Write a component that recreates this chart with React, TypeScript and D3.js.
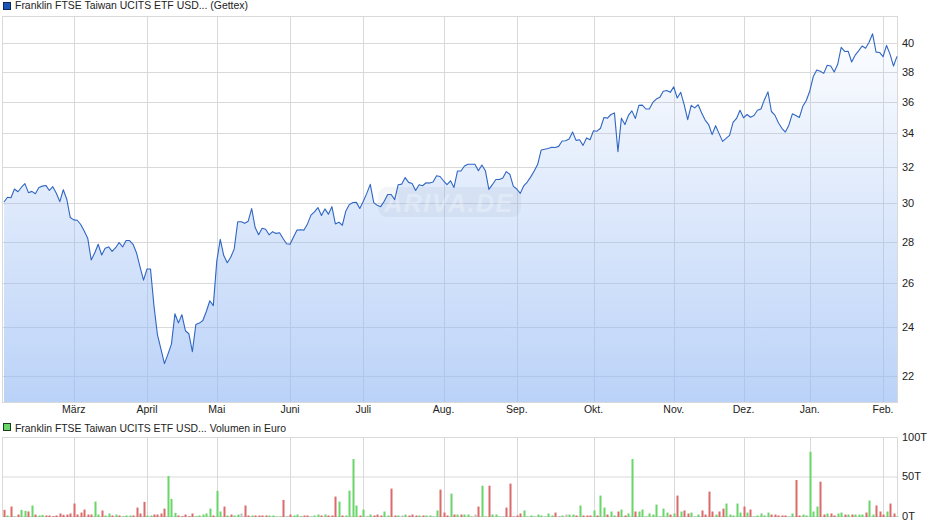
import React from "react";
import * as d3 from "d3";

const seriesName = "Franklin FTSE Taiwan UCITS ETF USD... (Gettex)";
const volumeName = "Franklin FTSE Taiwan UCITS ETF USD... Volumen in Euro";

const prices = [
  30.09,30.35,30.32,30.8,30.65,30.9,31.1,30.6,30.67,30.54,30.89,30.96,31.0,30.72,30.93,30.57,30.11,30.76,30.24,29.26,
  29.14,29.12,28.9,28.56,28.2,27.12,27.46,27.89,27.36,27.69,27.76,27.54,27.72,27.98,27.76,28.08,28.08,27.89,27.46,26.78,
  26.15,26.68,26.68,24.96,23.7,23.1,22.51,22.9,23.31,24.62,24.22,24.58,23.88,23.75,23.0,24.15,24.21,24.32,24.72,25.2,
  24.98,27.06,28.14,27.33,26.98,27.25,27.66,29.04,
  29.04,28.96,29.07,29.74,28.74,28.37,28.7,28.65,28.37,28.53,28.44,28.47,28.18,27.92,27.89,28.26,28.61,28.63,28.61,28.93,
  29.39,29.56,29.79,29.37,29.72,29.44,29.84,28.93,29.02,28.86,29.61,29.95,30.06,30.07,29.74,30.13,30.56,31.06,30.06,29.91,
  29.84,30.13,30.5,30.5,30.22,31.04,31.07,31.44,31.17,31.11,30.72,31.04,30.98,31.15,31.13,31.19,31.54,31.5,31.26,31.04,
  31.26,30.89,31.81,31.81,32.1,32.2,32.2,32.2,31.83,32.16,31.83,30.78,31.04,31.33,31.33,31.41,31.78,31.63,30.96,30.8,
  30.56,30.98,31.19,31.48,31.81,32.2,
  33.04,33.08,33.12,33.2,33.18,33.25,33.57,33.59,33.69,34.12,33.61,33.65,33.31,33.76,33.65,34.2,34.17,34.35,35.02,34.98,
  35.21,35.31,32.94,34.98,34.58,35.15,35.44,34.96,35.79,35.81,35.56,35.56,35.98,36.2,36.31,36.71,36.76,36.64,37.0,36.27,
  36.64,35.83,34.88,35.79,35.63,35.83,35.31,34.86,34.58,33.96,34.51,34.02,33.55,33.73,33.92,34.71,34.96,35.48,35.0,35.21,
  35.04,35.15,35.48,35.56,
  36.16,36.67,35.4,35.17,34.69,34.35,34.12,34.54,35.25,35.15,35.02,35.73,36.11,36.73,37.69,38.14,38.05,37.91,38.46,38.41,
  38.0,38.53,39.72,39.43,39.45,38.69,39.17,39.47,39.82,39.66,40.09,40.7,39.38,39.36,39.06,39.86,39.24,38.41,39.08,
];

const volumes = [
  8.4,1.3,12.6,0,2.5,8.4,7.1,6.3,13.9,2.5,
  1.3,2.1,1.3,1.3,0.4,1.3,3.8,2.1,2.5,3.8,
  16.4,2.5,5,8.8,2.5,2.5,18.9,2.5,7.6,1.3,
  3.8,1.3,2.5,1.3,0.4,1.3,1.3,1.3,11.3,3.8,
  18.5,1.3,1.3,2.5,2.5,3.8,10,51.3,22.3,4.6,
  1.3,0.4,2.5,0.4,3.8,0.4,1.3,2.5,3.8,10,
  1.3,32.4,6.3,12.6,1.3,2.5,1.3,2.5,3.8,13.9,
  1.3,1.3,1.3,1.3,1.3,1.3,1.3,1.3,0,0,
  21,0,2.5,1.3,2.5,0.4,1.3,1.3,0,1.3,
  2.5,1.3,2.5,1.3,1.3,25.2,18.9,1.3,1.3,32.8,
  72.7,13.9,1.3,8.8,0,2.5,1.3,2.5,1.3,6.3,
  1.3,35.3,1.3,1.3,1.3,2.5,1.3,2.5,1.3,1.3,
  1.3,1.3,1.3,0,7.6,34,5,1.3,29,2.5,
  2.5,2.5,2.5,2.5,0,2.5,12.6,39,0,39,
  2.5,2.5,0,0,11.3,41.6,0,1.3,3.8,7.6,
  0,1.3,0,2.5,1.3,0,3.8,1.3,5,0,
  1.3,2.5,2.5,2.5,1.3,13.9,1.3,1.3,1.3,7.6,
  1.3,26.5,11.3,2.5,6.3,1.3,6.3,8.8,1.3,3.8,
  72.7,6.3,6.3,8.8,0,3.8,2.5,15.1,0,10,
  5,2.5,3.8,26.5,6.3,7.6,3.8,5,0,2.5,
  7.6,2.5,31.5,6.3,2.5,6.3,10,16.4,2.5,1.3,
  16.4,5,12.6,5,8.8,0,1.3,3.8,1.3,5,
  2.5,2.5,1.3,1.3,1.3,0,3.8,46.2,1.3,2.5,
  1.3,81.9,6.3,12.6,44.1,2.5,3.8,3.8,1.3,3.8,
  5,2.5,2.5,2.5,2.5,2.5,2.5,5,20.2,2.5,
  13.9,6.3,2.5,6.3,16.4,3.8,0,
];

const volumeDirections = [
  "rgrgrggrgr","ggrrrrrrrr","rrrrrrggrg","grgrgggrrr","rggrrrrggg",
  "rrrrrggggg","rggrgrggnr","rgrrrrgggg","rgrgggrrgg",
  "grgrrrgrgg",
  "ggrgggrrrg","grrgngrrrg","rggggrrrgr","grgggnrggr","ggggrrrrrg",
  "ggggggggrr","gnggrgrrrg","rggrggrgrg","grgggggggg","grgrgrrggg",
  "rrrrgrrggg","ggrgrggggg","rrrrrggrrg","ggggrrgrrg","grgrgggrgg","rrrgrrg",
].join("");

const priceTicks = [22, 24, 26, 28, 30, 32, 34, 36, 38, 40];
const volumeTicks = [0, 50, 100];
const monthLabels = ["März", "April", "Mai", "Juni", "Juli", "Aug.", "Sep.", "Okt.", "Nov.", "Dez.", "Jan.", "Feb."];
const monthStartIndex = [20, 41, 61, 82, 103, 126, 147, 169, 192, 212, 231, 252];

const x = d3.scaleLinear().domain([0, prices.length - 1]).range([4, 897]);
const y = d3.scaleLog().domain([21, 42]).range([402.3, 16.3]);
const yVol = d3.scaleLinear().domain([0, 100]).range([516.5, 437.5]);

const linePath = d3.line<number>().x((_, i) => x(i)).y((d) => y(d))(prices) ?? "";
const areaPath = d3.area<number>().x((_, i) => x(i)).y0(402).y1((d) => y(d))(prices) ?? "";

const GRID = "#d9d9d9";
const TEXT = "#222222";
const FONT = "'Liberation Sans', Arial, sans-serif";
const barColor: Record<string, string> = { r: "#dc6a6a", g: "#68d668", n: "#bdbdbd" };

export default function App() {
  return (
    <svg
      width={940}
      height={526}
      viewBox="0 0 940 526"
      style={{ position: "absolute", left: 0, top: 0, background: "#fff" }}
      fontFamily={FONT}
      fontSize={10.5}
      fill={TEXT}
    >
      <defs>
        <linearGradient id="areaFill" gradientUnits="userSpaceOnUse" x1={0} y1={30} x2={0} y2={402}>
          <stop offset="0" stopColor="#96baf4" stopOpacity={0.02} />
          <stop offset="1" stopColor="#96baf4" stopOpacity={0.65} />
        </linearGradient>
      </defs>

      {/* price panel */}
      <rect x={2.5} y={16.5} width={895} height={386} fill="none" stroke={GRID} />
      {priceTicks.map((t) => (
        <g key={t}>
          <line x1={3} x2={898} y1={Math.floor(y(t)) + 0.5} y2={Math.floor(y(t)) + 0.5} stroke={GRID} />
          <text x={902} y={y(t) + 3.5} fontSize={11}>{t}</text>
        </g>
      ))}
      {monthStartIndex.map((idx, k) => (
        <g key={monthLabels[k]}>
          <line x1={Math.round(x(idx)) + 0.5} x2={Math.round(x(idx)) + 0.5} y1={16} y2={403} stroke={GRID} />
          <text x={x(idx)} y={413} textAnchor="middle">{monthLabels[k]}</text>
        </g>
      ))}

      <path d={areaPath} fill="url(#areaFill)" />

      <rect x={378} y={187} width={143} height={30} rx={9} fill="#7f8ca8" opacity={0.09} />
      <text x={449} y={212} textAnchor="middle" fontSize={25} fontWeight="bold" fontStyle="italic" fill="#ffffff" opacity={0.28} letterSpacing={1.5}>ARIVA.DE</text>

      <path d={linePath} fill="none" stroke="#2f66c4" strokeWidth={1.1} strokeLinejoin="round" />

      <rect x={3.5} y={2.5} width={7} height={7} fill="#1a56b8" stroke="#10284f" />
      <text x={15} y={9} textLength={233} lengthAdjust="spacingAndGlyphs">{seriesName}</text>

      {/* volume panel */}
      <rect x={3.5} y={423.5} width={7} height={7} fill="#68d668" stroke="#1c3a1c" />
      <text x={15} y={432} textLength={271} lengthAdjust="spacingAndGlyphs">{volumeName}</text>
      <rect x={2.5} y={437.5} width={895} height={79} fill="none" stroke={GRID} />
      {volumeTicks.map((t) => (
        <g key={t}>
          <line x1={3} x2={898} y1={yVol(t)} y2={yVol(t)} stroke={GRID} />
          <text x={902} y={yVol(t) + 3} fontSize={11}>{t}T</text>
        </g>
      ))}
      {monthStartIndex.map((idx, k) => (
        <line key={k} x1={Math.round(x(idx)) + 0.5} x2={Math.round(x(idx)) + 0.5} y1={437} y2={517} stroke={GRID} />
      ))}
      {volumes.map((v, i) => (
        <rect
          key={i}
          x={Math.round(x(i)) - 0.5}
          y={yVol(v)}
          width={2}
          height={517 - yVol(v)}
          fill={barColor[volumeDirections[i]] ?? barColor.g}
        />
      ))}
    </svg>
  );
}
